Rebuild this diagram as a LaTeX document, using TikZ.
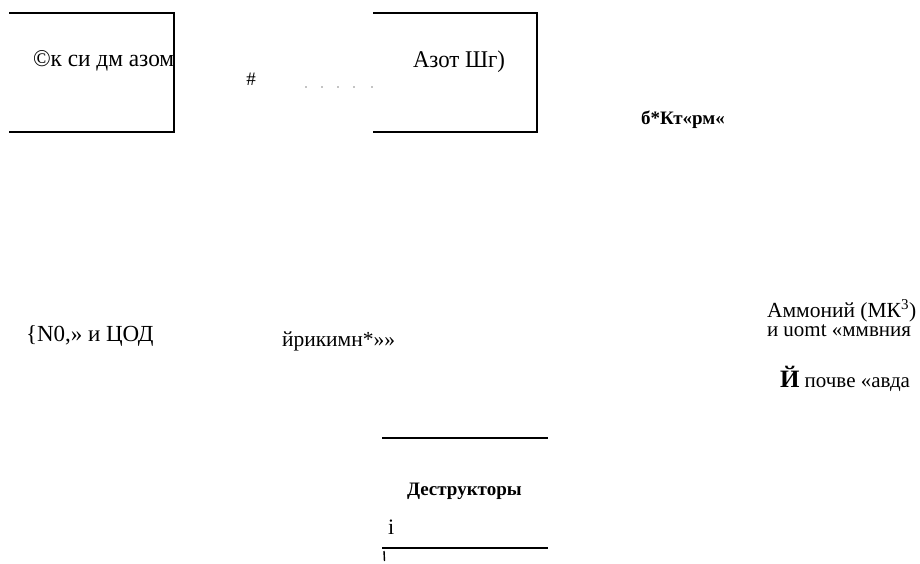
\documentclass[tikz,border=0pt]{standalone}
\usepackage{fontspec}
\setmainfont{Liberation Serif}
\tikzset{
  lbl/.style={anchor=base west, inner sep=0pt, outer sep=0pt},
  rule/.style={line width=1.2pt, black},
  dotmark/.style={fill=black, inner sep=0pt, minimum size=1.4pt, circle}
}
\begin{document}
\begin{tikzpicture}[x=1pt,y=-1pt]
\useasboundingbox (0,0) rectangle (920,563);
% box 1 (oxides)
\coordinate (b1tl) at (9,13);
\coordinate (b1tr) at (174,13);
\coordinate (b1br) at (174,132);
\coordinate (b1bl) at (9,132);
\draw[rule] (b1tl) -- (b1tr) -- (b1br) -- (b1bl);
\node[lbl, font=\fontsize{24}{26}\selectfont] (t1) at (33,66) {\scalebox{0.97}[1]{©к си дм азом}};
% hash and dots
\node[font=\fontsize{19}{21}\selectfont, inner sep=0pt] (hash) at (251,79) {\#};
\foreach \i/\x in {1/306,2/322,3/338,4/354,5/372} {\node[dotmark] (d\i) at (\x,87) {};}
% box 2 (nitrogen)
\coordinate (b2tl) at (373,13);
\coordinate (b2tr) at (537,13);
\coordinate (b2br) at (537,132);
\coordinate (b2bl) at (373,132);
\draw[rule] (b2tl) -- (b2tr) -- (b2br) -- (b2bl);
\node[lbl, font=\fontsize{24}{26}\selectfont] (t2) at (413,67) {\scalebox{0.95}[1]{Азот Шг)}};
\node[lbl, font=\fontsize{19}{21}\selectfont\bfseries] (t3) at (641,124) {б*Кт«рм«};
% middle row
\node[lbl, font=\fontsize{23}{25}\selectfont] (t4) at (26,341) {\{N0,» и ЦОД};
\node[lbl, font=\fontsize{21.5}{24}\selectfont] (t5) at (282,346) {йрикимн*»»};
\node[lbl, font=\fontsize{21.5}{23}\selectfont] (t6) at (767,317) {Аммоний (МК\textsuperscript{3})};
\node[lbl, font=\fontsize{21}{23}\selectfont] (t7) at (767,336) {и uomt «ммвния};
\node[lbl, font=\fontsize{21}{23}\selectfont] (t8) at (780,387) {{\fontsize{25}{27}\selectfont\bfseries Й} почве «авда};
% destructors
\coordinate (b3tl) at (382,438);
\coordinate (b3tr) at (548,438);
\coordinate (b3bl) at (382,548);
\coordinate (b3br) at (548,548);
\draw[rule] (b3tl) -- (b3tr);
\draw[rule] (b3bl) -- (b3br);
\node[lbl, font=\fontsize{19}{21}\selectfont\bfseries] (t9) at (407,495) {Деструкторы};
\node[lbl, font=\fontsize{22}{24}\selectfont] (t10) at (388,534) {i};
\coordinate (tk1) at (384,551);
\coordinate (tk2) at (384.5,561);
\draw[line width=1.4pt] (tk1) -- (tk2);
\end{tikzpicture}
\end{document}
